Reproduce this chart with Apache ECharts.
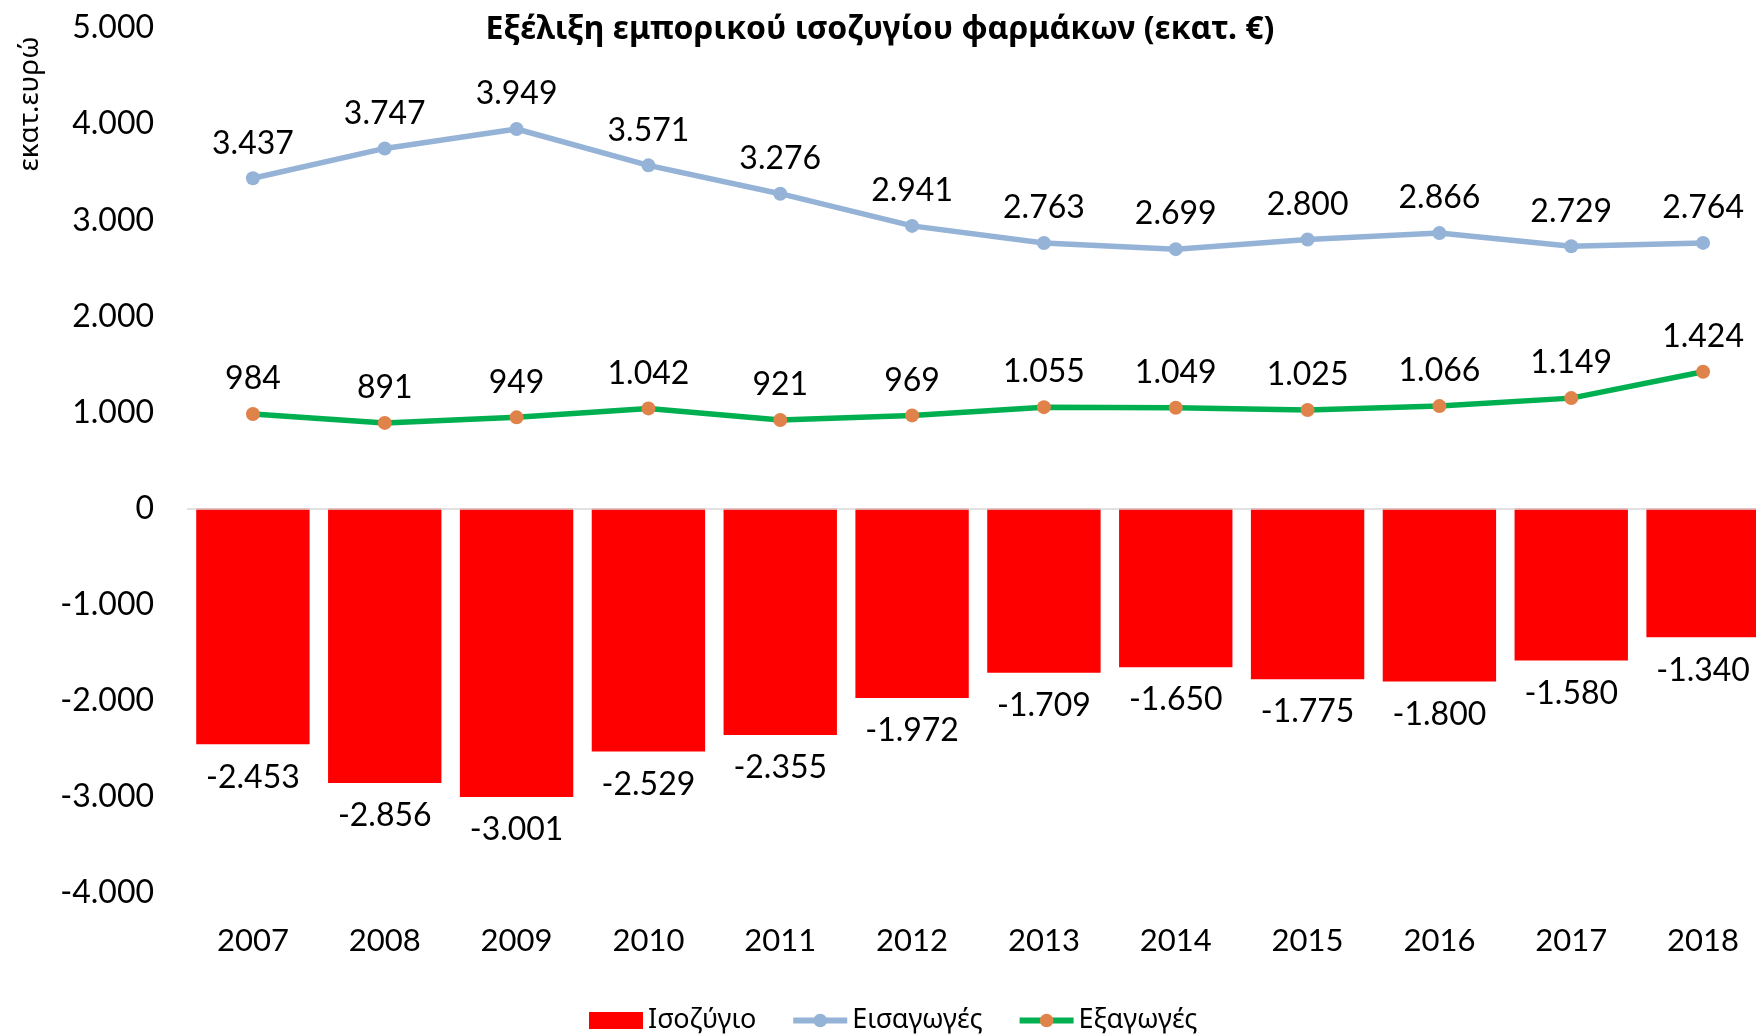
<!DOCTYPE html>
<html>
<head>
<meta charset="utf-8">
<script src="https://cdn.jsdelivr.net/npm/echarts@6/dist/echarts.min.js"></script>
<style>
  html, body { margin: 0; padding: 0; background: #fff; }
  #chart { width: 1756px; height: 1036px; }
</style>
</head>
<body>
<div id="chart"></div>
<script>
// Pharmaceutical trade balance, million €
const years = ['2007', '2008', '2009', '2010', '2011', '2012', '2013', '2014', '2015', '2016', '2017', '2018'];
const balance = [-2453, -2856, -3001, -2529, -2355, -1972, -1709, -1650, -1775, -1800, -1580, -1340];
const imports = [3437, 3747, 3949, 3571, 3276, 2941, 2763, 2699, 2800, 2866, 2729, 2764];
const exports = [984, 891, 949, 1042, 921, 969, 1055, 1049, 1025, 1066, 1149, 1424];
const yTicks = { min: -4000, max: 5000, step: 1000 };

// Greek-style thousands separator (dot)
function fmt(v) {
  const neg = v < 0;
  const s = String(Math.abs(Math.round(v))).replace(/\B(?=(\d{3})+(?!\d))/g, '.');
  return (neg ? '-' : '') + s;
}

const numFont = 'Lato, "Noto Sans", sans-serif';
const txtFont = '"Noto Sans", "DejaVu Sans", sans-serif';
const valueLabel = {
  show: true,
  fontFamily: numFont,
  fontSize: 32,
  color: '#000',
  formatter: p => fmt(p.value)
};

const chart = echarts.init(document.getElementById('chart'), null, { renderer: 'canvas' });
chart.setOption({
  animation: false,
  backgroundColor: '#ffffff',
  title: {
    text: 'Εξέλιξη εμπορικού ισοζυγίου φαρμάκων (εκατ. €)',
    left: 880,
    textAlign: 'center',
    top: 14,
    padding: 0,
    textStyle: { fontFamily: txtFont, fontWeight: 'bold', fontSize: 32, color: '#000' }
  },
  graphic: [{
    type: 'text',
    x: 30,
    y: 104,
    rotation: Math.PI / 2,
    style: {
      text: 'εκατ.ευρώ',
      fontFamily: txtFont,
      fontSize: 28,
      fill: '#000',
      align: 'center',
      verticalAlign: 'middle'
    }
  }],
  legend: {
    left: 589,
    top: 1007,
    padding: 0,
    itemGap: 34,
    itemWidth: 54,
    itemHeight: 17,
    lineStyle: { width: 6 },
    textStyle: { fontFamily: txtFont, fontSize: 27, color: '#000' },
    data: [
      { name: 'Ισοζύγιο', icon: 'rect' },
      { name: 'Εισαγωγές' },
      { name: 'Εξαγωγές' }
    ]
  },
  grid: { left: 187, width: 1582, top: 28, bottom: 143, containLabel: false, outerBoundsMode: 'none' },
  xAxis: {
    type: 'category',
    data: years,
    axisLine: { show: false },
    axisTick: { show: false },
    axisLabel: { fontFamily: numFont, fontSize: 31, color: '#000', margin: 32 }
  },
  yAxis: {
    type: 'value',
    min: yTicks.min,
    max: yTicks.max,
    interval: yTicks.step,
    axisLine: { show: false },
    axisTick: { show: false },
    splitLine: { show: false },
    axisLabel: { fontFamily: numFont, fontSize: 32, color: '#000', margin: 33, formatter: fmt }
  },
  series: [
    {
      name: 'Ισοζύγιο',
      type: 'bar',
      data: balance,
      barCategoryGap: '14%',
      itemStyle: { color: '#FF0000' },
      label: Object.assign({}, valueLabel, { position: 'bottom', distance: 17 }),
      markLine: {
        silent: true,
        symbol: 'none',
        label: { show: false },
        lineStyle: { color: '#D9D9D9', width: 1.5, type: 'solid' },
        data: [{ yAxis: 0 }]
      }
    },
    {
      name: 'Εισαγωγές',
      type: 'line',
      data: imports,
      symbol: 'circle',
      symbolSize: 14,
      lineStyle: { color: '#95B3D7', width: 5.5 },
      itemStyle: { color: '#95B3D7' },
      label: Object.assign({}, valueLabel, { position: 'top', distance: 12 })
    },
    {
      name: 'Εξαγωγές',
      type: 'line',
      data: exports,
      symbol: 'circle',
      symbolSize: 14,
      lineStyle: { color: '#00B050', width: 5.5 },
      itemStyle: { color: '#E0834A' },
      label: Object.assign({}, valueLabel, { position: 'top', distance: 12 })
    }
  ]
});
</script>
</body>
</html>
